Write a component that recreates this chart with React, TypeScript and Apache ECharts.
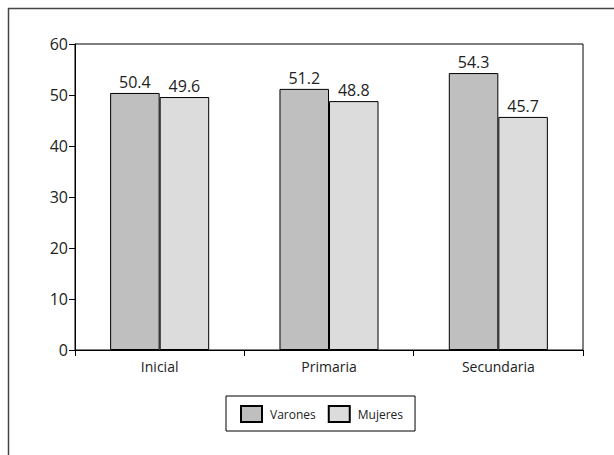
import React, { useEffect, useRef } from "react";
import * as echarts from "echarts";

const categories = ["Inicial", "Primaria", "Secundaria"];
const varones = [50.4, 51.2, 54.3];
const mujeres = [49.6, 48.8, 45.7];
const seriesNames = ["Varones", "Mujeres"];

const FONT = "'Open Sans', sans-serif";

export default function App() {
  const ref = useRef<HTMLDivElement>(null);
  useEffect(() => {
    if (!ref.current) return;
    const chart = echarts.init(ref.current, undefined, { renderer: "svg" });
    const label = {
      show: true,
      position: "top" as const,
      distance: 3,
      color: "#222",
      fontSize: 16,
      fontFamily: FONT,
      formatter: (p: any) => Number(p.value).toFixed(1),
    };
    chart.setOption({
      animation: false,
      textStyle: { fontFamily: FONT },
      graphic: [
        {
          type: "rect",
          shape: { x: 8.5, y: 8.5, width: 700, height: 600 },
          style: { fill: "none", stroke: "#444", lineWidth: 1.5 },
          silent: true,
        },
      ],
      grid: {
        left: 75,
        top: 44,
        right: 31,
        bottom: 105,
        show: true,
        borderColor: "#000",
        borderWidth: 1,
      },
      legend: {
        data: seriesNames,
        left: 226,
        top: 396,
        orient: "horizontal",
        icon: "rect",
        padding: [9, 12, 8, 14],
        borderColor: "#000",
        borderWidth: 1,
        itemWidth: 21,
        itemHeight: 16,
        itemGap: 12,
        textStyle: { fontSize: 12, color: "#222", fontFamily: FONT, padding: [0, 0, 0, 3] },
      },
      xAxis: {
        type: "category",
        data: categories,
        axisLine: { lineStyle: { color: "#000", width: 1 } },
        axisTick: { show: true, length: 6, alignWithLabel: false, lineStyle: { color: "#000" } },
        axisLabel: { color: "#222", fontSize: 14, margin: 9, fontFamily: FONT },
      },
      yAxis: {
        type: "value",
        min: 0,
        max: 60,
        interval: 10,
        splitLine: { show: false },
        axisLine: { show: true, lineStyle: { color: "#000", width: 1 } },
        axisTick: { show: true, length: 6, lineStyle: { color: "#000" } },
        axisLabel: { color: "#222", fontSize: 16, margin: 7, fontFamily: FONT },
      },
      series: [
        {
          name: seriesNames[0],
          type: "bar",
          data: varones,
          barGap: "0%",
          barCategoryGap: "41.5%",
          itemStyle: { color: "#bfbfbf", borderColor: "#000", borderWidth: 1 },
          label,
        },
        {
          name: seriesNames[1],
          type: "bar",
          data: mujeres,
          itemStyle: { color: "#dcdcdd", borderColor: "#000", borderWidth: 1 },
          label,
        },
      ],
    });
    return () => chart.dispose();
  }, []);
  return (
    <div
      ref={ref}
      style={{ position: "absolute", left: 0, top: 0, width: 614, height: 455, background: "#fff" }}
    />
  );
}
